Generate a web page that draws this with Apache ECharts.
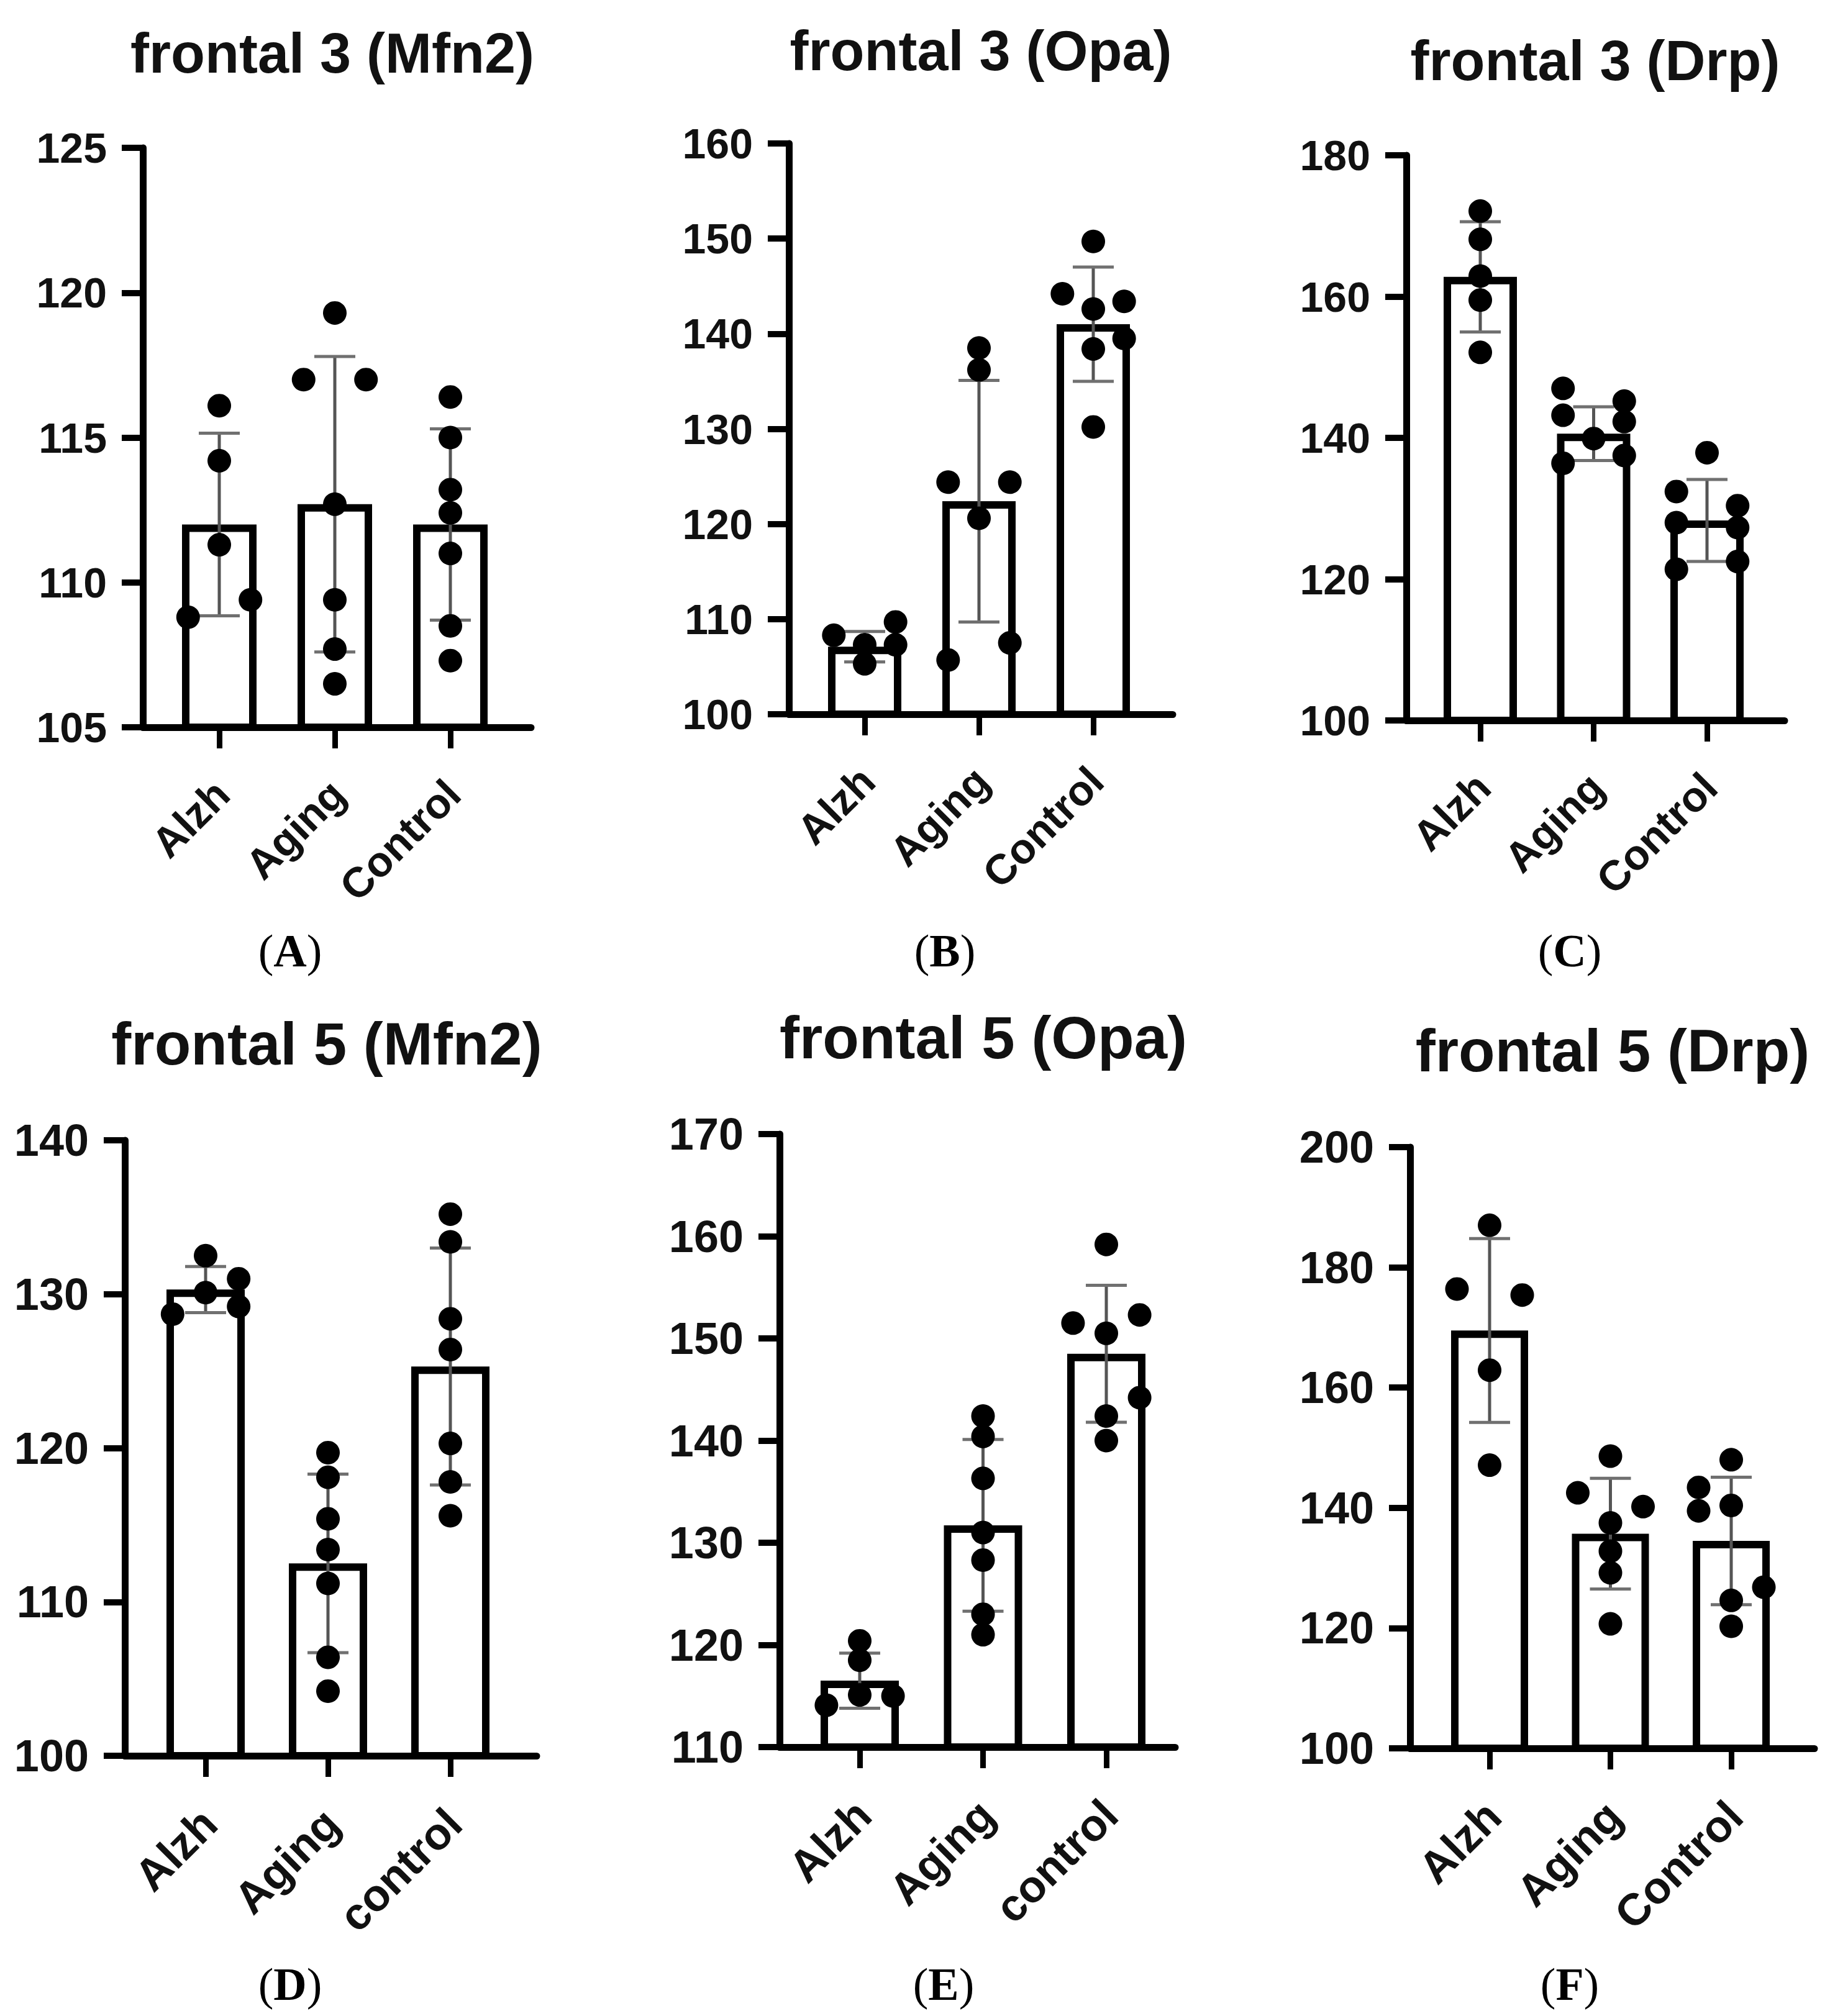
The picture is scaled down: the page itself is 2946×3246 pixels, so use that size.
<!DOCTYPE html>
<html>
<head>
<meta charset="utf-8">
<script src="https://cdn.jsdelivr.net/npm/echarts@6.0.0/dist/echarts.min.js"></script>
<style>
html,body{margin:0;padding:0;background:#fff;}
#chart{width:2946px;height:3246px;}
</style>
</head>
<body>
<div id="chart"></div>
<script>
// ---------- data ----------
const titles = ['frontal 3 (Mfn2)', 'frontal 3 (Opa)', 'frontal 3 (Drp)', 'frontal 5 (Mfn2)', 'frontal 5 (Opa)', 'frontal 5 (Drp)'];
const letters = ['A', 'B', 'C', 'D', 'E', 'F'];

const catsA = ['Alzh', 'Aging', 'Control'];
const catsB = ['Alzh', 'Aging', 'Control'];
const catsC = ['Alzh', 'Aging', 'Control'];
const catsD = ['Alzh', 'Aging', 'control'];
const catsE = ['Alzh', 'Aging', 'control'];
const catsF = ['Alzh', 'Aging', 'Control'];

// y axis [min, max, interval]
const yAxisA = [105, 125, 5];
const yAxisB = [100, 160, 10];
const yAxisC = [100, 180, 20];
const yAxisD = [100, 140, 10];
const yAxisE = [110, 170, 10];
const yAxisF = [100, 200, 20];

// bar means and SD
const meanA = [112.0, 112.7, 112.0];
const sdA = [3.15, 5.1, 3.3];
const meanB = [107.1, 122.4, 141.0];
const sdB = [1.6, 12.7, 6.0];
const meanC = [162.8, 140.6, 128.3];
const sdC = [7.8, 3.8, 5.8];
const meanD = [130.3, 112.5, 125.3];
const sdD = [1.5, 5.8, 7.7];
const meanE = [116.5, 131.7, 148.5];
const sdE = [2.7, 8.4, 6.7];
const meanF = [169.5, 135.7, 134.5];
const sdF = [15.3, 9.2, 10.6];

// individual points per group, and their jitter lane (-1 left, 0 centre, 1 right)
const ptsA = [[116.1, 114.2, 111.3, 109.4, 108.8],
              [119.3, 117.0, 117.0, 112.7, 109.4, 107.7, 106.5],
              [116.4, 115.0, 113.2, 112.4, 111.0, 108.5, 107.3]];
const laneA = [[0, 0, 0, 1, -1], [0, -1, 1, 0, 0, 0, 0], [0, 0, 0, 0, 0, 0, 0]];

const ptsB = [[108.3, 109.7, 107.3, 107.3, 105.3],
              [138.5, 136.2, 124.4, 124.4, 120.6, 105.7, 107.5],
              [149.7, 144.2, 143.4, 142.6, 139.5, 138.4, 130.2]];
const laneB = [[-1, 1, 0, 1, 0], [0, 0, -1, 1, 0, -1, 1], [0, -1, 1, 0, 1, 0, 0]];

const ptsC = [[172.1, 168.1, 162.9, 159.5, 152.1],
              [147.0, 143.2, 136.4, 145.2, 142.3, 137.5, 139.9],
              [137.9, 132.4, 130.4, 128.0, 127.3, 122.5, 121.4]];
const laneC = [[0, 0, 0, 0, 0], [-1, -1, -1, 1, 1, 1, 0], [0, -1, 1, -1, 1, 1, -1]];

const ptsD = [[132.5, 130.1, 131.0, 129.2, 128.7],
              [119.7, 118.1, 115.4, 113.4, 111.2, 106.4, 104.2],
              [135.2, 133.4, 128.4, 126.4, 120.3, 117.8, 115.6]];
const laneD = [[0, 0, 1, 1, -1], [0, 0, 0, 0, 0, 0, 0], [0, 0, 0, 0, 0, 0, 0]];

const ptsE = [[120.4, 118.5, 115.1, 115.0, 114.1],
              [142.4, 140.4, 136.3, 131.0, 128.3, 123.0, 121.0],
              [159.2, 151.5, 152.3, 150.5, 144.2, 142.4, 140.0]];
const laneE = [[0, 0, 0, 1, -1], [0, 0, 0, 0, 0, 0, 0], [0, -1, 1, 0, 1, 0, 0]];

const ptsF = [[187.0, 176.4, 175.4, 162.9, 147.1],
              [148.6, 142.5, 140.2, 137.5, 132.8, 129.2, 120.7],
              [148.0, 143.4, 140.4, 139.5, 126.8, 124.6, 120.3]];
const laneF = [[0, -1, 1, 0, 0], [0, -1, 1, 0, 0, 0, 0], [0, -1, 0, -1, 1, 0, 0]];

// ---------- layout (pixels) ----------
const layout = [
  {left: 230,  top: 238,  bottom: 1171, xEnd: 855,  c0: 353,  c2: 725,  barW: 120, tx: 535,  ty: 86,   ts: 90, cx: 467,  cy: 1531, fs: 68, xfs: 68},
  {left: 1270, top: 231,  bottom: 1150, xEnd: 1888, c0: 1392, c2: 1760, barW: 118, tx: 1579, ty: 82,   ts: 90, cx: 1521, cy: 1531, fs: 68, xfs: 68},
  {left: 2264, top: 250,  bottom: 1160, xEnd: 2873, c0: 2383, c2: 2748, barW: 118, tx: 2568, ty: 98,   ts: 90, cx: 2527, cy: 1531, fs: 68, xfs: 68},
  {left: 201,  top: 1836, bottom: 2827, xEnd: 864,  c0: 331,  c2: 725,  barW: 126, tx: 526,  ty: 1680, ts: 96, cx: 467,  cy: 3195, fs: 72, xfs: 72},
  {left: 1255, top: 1826, bottom: 2813, xEnd: 1892, c0: 1384, c2: 1781, barW: 126, tx: 1583, ty: 1670, ts: 96, cx: 1519, cy: 3195, fs: 72, xfs: 72},
  {left: 2270, top: 1847, bottom: 2815, xEnd: 2921, c0: 2398, c2: 2787, barW: 124, tx: 2596, ty: 1691, ts: 96, cx: 2527, cy: 3195, fs: 72, xfs: 72}
];
const LANE = 0.27;

const panels = [
  {cats: catsA, y: yAxisA, mean: meanA, sd: sdA, pts: ptsA, lane: laneA},
  {cats: catsB, y: yAxisB, mean: meanB, sd: sdB, pts: ptsB, lane: laneB},
  {cats: catsC, y: yAxisC, mean: meanC, sd: sdC, pts: ptsC, lane: laneC},
  {cats: catsD, y: yAxisD, mean: meanD, sd: sdD, pts: ptsD, lane: laneD},
  {cats: catsE, y: yAxisE, mean: meanE, sd: sdE, pts: ptsE, lane: laneE},
  {cats: catsF, y: yAxisF, mean: meanF, sd: sdF, pts: ptsF, lane: laneF}
];

const SANS = 'Liberation Sans, Arial, sans-serif';
const SERIF = 'Liberation Serif, Times New Roman, serif';

const option = {
  backgroundColor: '#ffffff',
  animation: false,
  grid: [], xAxis: [], yAxis: [], series: [], graphic: []
};

panels.forEach((P, i) => {
  const L = layout[i];
  const s = (L.c2 - L.c0) / 2;
  const xmin = -(L.c0 - L.left) / s;
  const xmax = 2 + (L.xEnd - L.c2) / s;

  option.grid.push({left: L.left, top: L.top, width: L.xEnd - L.left, height: L.bottom - L.top});

  option.xAxis.push({
    type: 'value', gridIndex: i, min: xmin, max: xmax,
    splitLine: {show: false},
    axisLine: {show: true, onZero: false, lineStyle: {color: '#000', width: 11}},
    axisTick: {show: true, customValues: [0, 1, 2], length: 34, lineStyle: {color: '#000', width: 9}},
    axisLabel: {
      show: true, customValues: [0, 1, 2], rotate: 45, margin: 52,
      align: 'right', verticalAlign: 'top', padding: [0, 28, 0, 0],
      formatter: v => P.cats[Math.round(v)],
      fontFamily: SANS, fontWeight: 'bold', fontSize: L.xfs, color: '#111'
    }
  });

  option.yAxis.push({
    type: 'value', gridIndex: i, min: P.y[0], max: P.y[1], interval: P.y[2],
    splitLine: {show: false},
    axisLine: {show: true, onZero: false, lineStyle: {color: '#000', width: 11}},
    axisTick: {show: true, length: 34, lineStyle: {color: '#000', width: 10}},
    axisLabel: {fontFamily: SANS, fontWeight: 'bold', fontSize: L.fs, color: '#111', margin: 58}
  });

  option.series.push({
    type: 'bar', xAxisIndex: i, yAxisIndex: i,
    data: P.mean.map((m, k) => [k, m]),
    barWidth: L.barW, clip: true, silent: true, z: 2,
    itemStyle: {color: '#fff', borderColor: '#000', borderWidth: 12, opacity: 1}
  });

  option.series.push({
    type: 'custom', xAxisIndex: i, yAxisIndex: i, z: 3, silent: true,
    data: P.mean.map((m, k) => [k, m, P.sd[k]]),
    encode: {x: 0, y: 1},
    renderItem: (params, api) => {
      const x = api.value(0), m = api.value(1), sd = api.value(2);
      const t = api.coord([x, m + sd]);
      const b = api.coord([x, m - sd]);
      const hw = 33;
      return {
        type: 'group',
        children: [
          {type: 'line', shape: {x1: t[0], y1: t[1], x2: b[0], y2: b[1]}, style: {stroke: '#555', lineWidth: 5}},
          {type: 'line', shape: {x1: t[0] - hw, y1: t[1], x2: t[0] + hw, y2: t[1]}, style: {stroke: '#707070', lineWidth: 5}},
          {type: 'line', shape: {x1: b[0] - hw, y1: b[1], x2: b[0] + hw, y2: b[1]}, style: {stroke: '#707070', lineWidth: 5}}
        ]
      };
    }
  });

  const sc = [];
  P.pts.forEach((grp, k) => grp.forEach((v, j) => sc.push([k + P.lane[k][j] * LANE, v])));
  option.series.push({
    type: 'scatter', xAxisIndex: i, yAxisIndex: i, z: 4, silent: true,
    symbol: 'circle', symbolSize: 38,
    itemStyle: {color: '#000', opacity: 1},
    data: sc
  });

  option.graphic.push({
    type: 'text', x: L.tx, y: L.ty, z: 10,
    style: {text: titles[i], font: 'bold ' + L.ts + 'px ' + SANS, fill: '#111',
            textAlign: 'center', textVerticalAlign: 'middle', align: 'center', verticalAlign: 'middle'}
  });
  option.graphic.push({
    type: 'text', x: L.cx, y: L.cy, z: 10,
    style: {
      text: '{p|(}{b|' + letters[i] + '}{p|)}',
      rich: {
        p: {fontFamily: SERIF, fontSize: 74, fontWeight: 'normal', fill: '#000', color: '#000'},
        b: {fontFamily: SERIF, fontSize: 74, fontWeight: 'bold', fill: '#000', color: '#000'}
      },
      textAlign: 'center', textVerticalAlign: 'middle', align: 'center', verticalAlign: 'middle'
    }
  });
});

const chart = echarts.init(document.getElementById('chart'), null, {renderer: 'svg', width: 2946, height: 3246});
chart.setOption(option);
</script>
</body>
</html>
